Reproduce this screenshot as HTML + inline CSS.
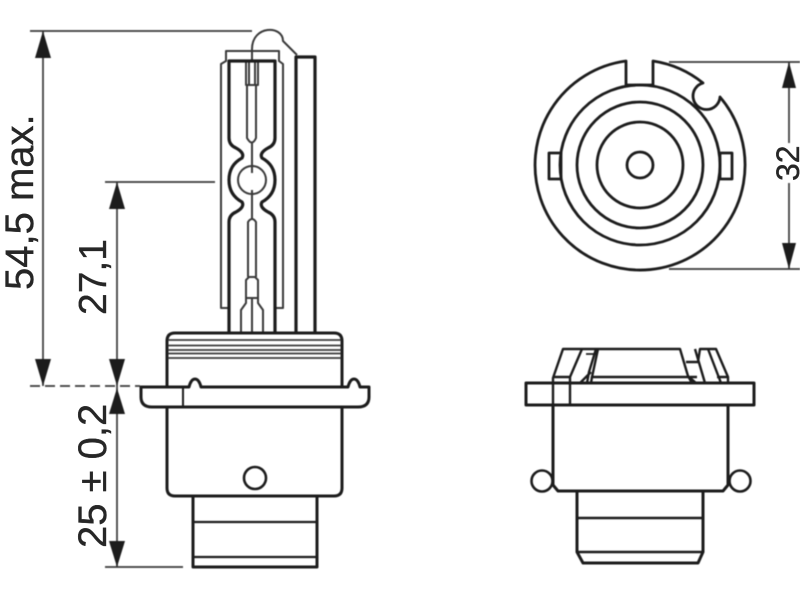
<!DOCTYPE html>
<html><head><meta charset="utf-8"><style>
html,body{margin:0;padding:0;background:#fff}
svg{display:block;width:800px;height:600px}
text{font-family:"Liberation Sans",sans-serif;fill:#262626;stroke:#262626;stroke-width:.35px}
</style></head><body>
<svg viewBox="0 0 800 600" xmlns="http://www.w3.org/2000/svg">
<rect width="800" height="600" fill="#fff"/>
<g style="filter:blur(0.4px)" fill="none" stroke="#1c1c1c" stroke-linejoin="round">
<!-- dimension lines -->
<g stroke="#3a3a3a" stroke-width="1.7">
<path d="M30 31H252M105 182H215M105 567H183M669 62H800M669 269H800"/>
<path d="M43 31V386M117 182V567M789 62V143M789 183V269"/>
<path d="M30 386H140" stroke-dasharray="10 5"/>
</g>
<g fill="#1c1c1c" stroke="none">
<path d="M43 31L51 58H35Z"/><path d="M43 386L51 359H35Z"/>
<path d="M117 182L125 209H109Z"/><path d="M117 386L125 359H109Z"/>
<path d="M117 388L125 414H109Z"/><path d="M117 567L125 541H109Z"/>
<path d="M789 62L796 88H782Z"/><path d="M789 269L796 243H782Z"/>
</g>
<!-- lamp glass -->
<g stroke-width="2" stroke="#3a3a3a">
<path d="M230 308H221V64L226 61V51H279V61L283 64V308H275"/>
<path d="M252 60V49C252 25 283 25 283 41L297 55"/>
<path d="M246 61V85H258V61M249 61V85M255 61V85"/>
<path d="M247 85V138Q252 147 256 138V85"/>
<path d="M252 143V173M252 190V219"/>
<path d="M248 277V222Q252 216 256 222V277"/>
<path d="M246 298V280L249 277H255L258 280V298M241 332V310L246 303V298H258V303L263 310V332"/>
<path d="M252 298V332"/>
<circle cx="252" cy="180" r="14"/>
</g>
<g stroke-width="3.2">
<path d="M229 332V222Q229 215 236 212Q245 207 242 202Q229 195 229 180Q229 165 242 158Q245 153 236 148Q229 145 229 138V61H275V138Q275 145 268 148Q259 153 262 158Q275 165 275 180Q275 195 262 202Q259 207 268 212Q275 215 275 222V332"/>
<path d="M296 332V57H315V332"/>
</g>
<!-- left base -->
<g stroke-width="3">
<path d="M167 387V341Q167 333 175 333H334Q342 333 342 341V387"/>
<path d="M167 407V488Q167 496 175 496H334Q342 496 342 488V407"/>
<path d="M193 496V567H317V496"/>
<path d="M141 387V397Q141 407 152 407H358Q369 407 369 397V387H360Q358 379 354 379Q350 379 348 387H201Q199 379 195 379Q191 379 189 387Z"/>
<path d="M183 387V407" stroke-width="2"/>
</g>
<path d="M168 340H341M168 345.500H341M168 350H341M168 353.500H341M168 358H341" stroke-width="1.8" stroke="#3a3a3a"/>
<path d="M193 522H317M193 557H317" stroke-width="2.200"/>
<circle cx="255" cy="478" r="11" stroke-width="2.600"/>
<!-- right base -->
<g stroke-width="3">
<rect x="526" y="383" width="228" height="22"/>
<path d="M553 405V485L558 491H723L728 485V405"/>
<path d="M553 383V406" stroke-width="2.400"/>
<path d="M570 383V405" stroke-width="2.400"/>
<path d="M577 491V552L583 563H698L703 552V491"/>
<path d="M577 518H703M577 552H703" stroke-width="2.400"/>
<circle cx="542" cy="481" r="10.500" stroke-width="2.600"/>
<circle cx="740" cy="481" r="10.500" stroke-width="2.600"/>
</g>
<g stroke-width="2.400">
<path d="M553 383V378L563 349H680L688 376L692 383"/>
<path d="M553 377H570L582 349M570 383V377"/>
<path d="M598 349L592 377H688"/>
<path d="M580 383L586 377L591 372M596 349L589 372L587 383M592 377L591 383"/>
<path d="M584 349H600M586 354H597" stroke-width="1.700"/>
<path d="M686 362H698M688 376L696 383M698 362L700 349H716L728 377V383"/>
<path d="M695 349L705 383M708 349L721 383M717 377H728M690 377H697" />
</g>
<!-- top view -->
<g stroke-width="2.800">
<path d="M626 61A105 105 0 1 0 720 97A13.500 13.500 0 1 1 703 83A105 105 0 0 0 653 61V85H626Z"/>
<circle cx="640" cy="165" r="80"/>
<circle cx="640" cy="165" r="63"/>
<circle cx="640" cy="165" r="43"/>
<circle cx="640" cy="165" r="13"/>
<rect x="549" y="153" width="12" height="26"/>
<rect x="720" y="153" width="12" height="26"/>
</g>
</g>
<text transform="translate(33 290) rotate(-90)" font-size="40">54,5 max.</text>
<text transform="translate(106 315) rotate(-90)" font-size="39">27,1</text>
<text transform="translate(106 548) rotate(-90)" font-size="40">25 ± 0,2</text>
<text transform="translate(799 181) rotate(-90)" font-size="32">32</text>
</svg>
</body></html>
